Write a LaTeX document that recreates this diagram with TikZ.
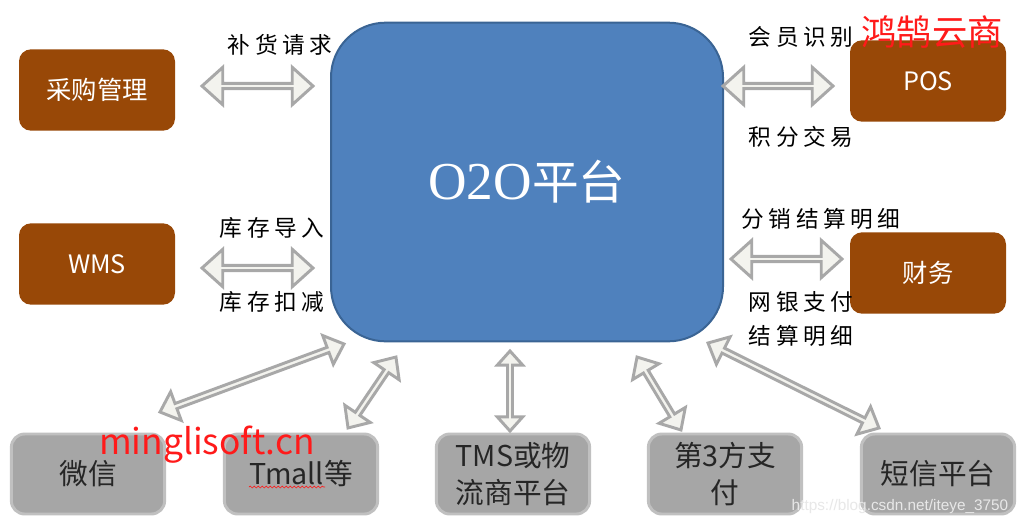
\documentclass[tikz,border=0pt]{standalone}
\usepackage{fontspec}
\setmainfont{Liberation Serif}
\newfontfamily\cjk{Noto Sans CJK SC}
\newfontfamily\cjklab[LetterSpace=20]{Noto Sans CJK SC}
\newfontfamily\webfont{Liberation Sans}
\usepackage{tikz}
\usetikzlibrary{positioning, calc, shapes.arrows, decorations.pathmorphing}
\definecolor{oBlue}{HTML}{4F81BD}
\definecolor{oBlueLine}{HTML}{3A6494}
\definecolor{oBrown}{HTML}{984807}
\definecolor{oGray}{HTML}{A6A6A6}
\definecolor{oGrayLine}{HTML}{C0C0C0}
\definecolor{oInk}{HTML}{262626}
\definecolor{aFill}{HTML}{F3F3EE}
\definecolor{aLine}{HTML}{A8A8A8}
\definecolor{wRed}{HTML}{FF1A1A}

% block arrow between two named points
\newcommand{\linkarrow}[3][]{%
  \path let \p1=($(#3)-(#2)$), \n1={veclen(\x1,\y1)}, \n2={atan2(\y1,\x1)} in
    ($(#2)!0.5!(#3)$) node[link, #1, minimum height=\n1, rotate=\n2] {};}

\begin{document}
\begin{tikzpicture}[x=0.75pt, y=-0.75pt,
      hub/.style={draw=oBlueLine, line width=1.5pt, fill=oBlue, rounded corners=41pt,
        minimum width=294pt, minimum height=239pt, text=white},
      sys/.style={fill=oBrown, rounded corners=9pt, minimum width=117pt, minimum height=61pt,
        text=white, font=\cjk\fontsize{19}{22}\selectfont},
      chan/.style={fill=oGray, draw=oGrayLine, line width=2.2pt, rounded corners=10pt,
        minimum width=115pt, minimum height=60pt, text=oInk, align=center,
        font=\cjk\fontsize{21.5}{28}\selectfont},
      link/.style={double arrow, draw=aLine, fill=aFill, line width=2.2pt, inner sep=0pt,
        minimum width=28pt, double arrow head extend=6.5pt, double arrow tip angle=84},
      slim/.style={minimum width=23pt, double arrow head extend=5pt},
      tag/.style={font=\cjklab\fontsize{17}{20}\selectfont, text=black},
      stamp/.style={text=wRed, font=\cjk\fontsize{26.5}{30}\selectfont}]
  \useasboundingbox[fill=white] (0,0) rectangle (1021,526);

  % platform in the middle
  \node[hub] (o2o) at (527,182) {\fontsize{40}{44}\selectfont O2O{\cjk\fontsize{35}{40}\selectfont 平台}};

  % side systems
  \node[sys] (buy) at (97,90) {采购管理};
  \node[sys] (wms) at (97,264) {WMS};
  \node[sys] (pos) at (928,81) {POS};
  \node[sys] (fin) at (928,273) {财务};

  % channels below
  \node[chan] (wx) at (88,474) {微信};
  \node[chan] (tmall) at (301,474) {Tmall等};
  \node[chan] (tms) at (513,474) {TMS或物\\流商平台};
  \node[chan] (pay) at (725,474) {第3方支\\付};
  \node[chan] (sms) at (938,474) {短信平台};

  % arrow ends
  \coordinate (buyL) at (202,86);  \coordinate (buyR) at (313,86);
  \coordinate (wmsL) at (202,268); \coordinate (wmsR) at (313,268);
  \coordinate (posL) at (723,86);  \coordinate (posR) at (833,86);
  \coordinate (finL) at (731,259); \coordinate (finR) at (842,259);
  \coordinate (wxA) at (160,412);   \coordinate (wxB) at (344,344);
  \coordinate (tmA) at (348,428);   \coordinate (tmB) at (396,357);
  \coordinate (tmsA) at (510,431);  \coordinate (tmsB) at (510,351);
  \coordinate (payA) at (681,430);  \coordinate (payB) at (637,357);
  \coordinate (smsA) at (879,428);  \coordinate (smsB) at (708,343);

  \linkarrow{buyL}{buyR}
  \linkarrow{wmsL}{wmsR}
  \linkarrow{posL}{posR}
  \linkarrow{finL}{finR}
  \linkarrow[slim]{wxA}{wxB}
  \linkarrow[slim]{tmA}{tmB}
  \linkarrow[slim, minimum width=19pt, double arrow head extend=4.5pt]{tmsA}{tmsB}
  \linkarrow[slim]{payA}{payB}
  \linkarrow[slim]{smsA}{smsB}

  % flow labels
  \node[tag] (t1) at (280,45) {补货请求};
  \node[tag] (t2) at (272,228) {库存导入};
  \node[tag] (t3) at (272,302) {库存扣减};
  \node[tag] (t4) at (801,37) {会员识别};
  \node[tag] (t5) at (801,137) {积分交易};
  \node[tag] (t6) at (821,219) {分销结算明细};
  \node[tag] (t7) at (801,302) {网银支付};
  \node[tag] (t8) at (801,336) {结算明细};

  % spell mark under Tmall
  \draw[wRed, line width=0.5pt, decorate, decoration={snake, amplitude=0.7pt, segment length=3pt}]
    ($(tmall.center)+(-52,13)$) -- ++(76,0);

  % watermarks
  \node[stamp] (brand) at (932,32) {鸿鹄云商};
  \node[stamp] (site) at (207,445) {minglisoft.cn};
  \node[text=gray!18, font=\webfont\fontsize{11.5}{13}\selectfont] (blog) at (900,507) {https://blog.csdn.net/iteye\_3750};
\end{tikzpicture}
\end{document}
